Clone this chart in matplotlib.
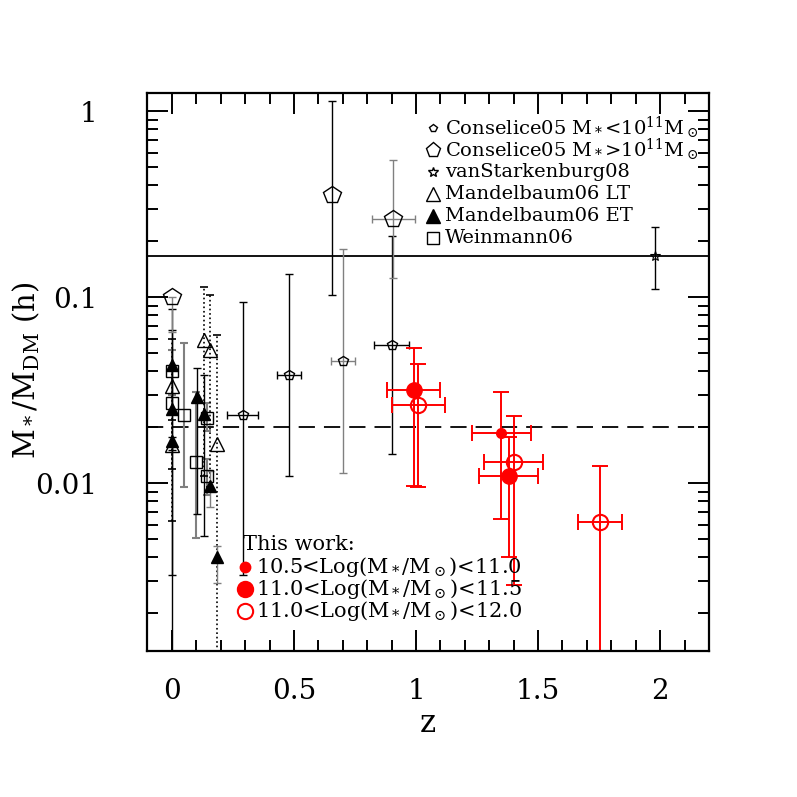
import matplotlib
matplotlib.use("Agg")
import matplotlib.pyplot as plt
from matplotlib.ticker import MultipleLocator, LogLocator, NullFormatter, FixedFormatter, FixedLocator

plt.rcParams["font.family"] = "DejaVu Serif"
plt.rcParams["mathtext.fontset"] = "dejavuserif"

# ---- This work (red) ----
red_small_z = [1.35]
red_small_y = [0.0187]
red_small_lo = [0.00646]
red_small_hi = [0.0308]
red_small_zerr = [0.12]

red_mid_z = [0.99, 1.38]
red_mid_y = [0.0318, 0.0109]
red_mid_lo = [0.0097, 0.0040]
red_mid_hi = [0.0537, 0.0178]
red_mid_zerr = [0.11, 0.12]

red_big_z = [1.01, 1.40, 1.755]
red_big_y = [0.0265, 0.0130, 0.0062]
red_big_lo = [0.0095, 0.00284, 0.0008]
red_big_hi = [0.0438, 0.0231, 0.0124]
red_big_zerr = [0.11, 0.12, 0.09]

# ---- Conselice05 ----
cons_small_z = [0.29, 0.48, 0.70, 0.90]
cons_small_y = [0.0234, 0.0383, 0.0452, 0.0555]
cons_small_lo = [0.0032, 0.0110, 0.0113, 0.0144]
cons_small_hi = [0.0947, 0.134, 0.1815, 0.214]
cons_small_zerr = [0.063, 0.048, 0.049, 0.073]
cons_small_col = ["k", "k", "0.5", "k"]

cons_big_z = [0.0, 0.655, 0.907]
cons_big_y = [0.100, 0.356, 0.265]
cons_big_lo = [0.065, 0.103, 0.127]
cons_big_hi = [0.100, 1.14, 0.549]
cons_big_zerr = [0.0, 0.0, 0.087]
cons_big_col = ["0.5", "k", "0.5"]

# ---- vanStarkenburg08 ----
vs_z = [1.98]
vs_y = [0.166]
vs_lo = [0.111]
vs_hi = [0.238]

# ---- Mandelbaum06 LT (open triangles) ----
mlt_z = [0.0, 0.0, 0.13, 0.155, 0.185]
mlt_y = [0.0335, 0.0160, 0.059, 0.052, 0.0162]
mlt_lo = [0.0063, 0.012, 0.011, 0.0095, 0.0008]
mlt_hi = [0.060, 0.022, 0.114, 0.103, 0.063]

# ---- Mandelbaum06 ET (filled triangles) ----
met_z = [0.0, 0.0, 0.0, 0.105, 0.13, 0.155, 0.185]
met_y = [0.0434, 0.0252, 0.0168, 0.029, 0.0237, 0.0097, 0.0040]
met_lo = [0.0032, 0.0007, 0.0151, 0.0068, 0.0052, 0.0075, 0.0029]
met_hi = [0.067, 0.087, 0.0178, 0.0416, 0.0383, 0.0117, 0.0046]
met_col = ["k", "k", "k", "k", "k", "0.5", "0.5"]

# ---- Weinmann06 (open squares) ----
wei_z = [0.0, 0.0, 0.05, 0.10, 0.145, 0.145]
wei_y = [0.040, 0.027, 0.0234, 0.0130, 0.0110, 0.0224]
wei_lo = [0.030, 0.024, 0.0095, 0.0051, 0.0087, 0.019]
wei_hi = [0.052, 0.030, 0.057, 0.031, 0.0135, 0.027]

f_baryon = 0.167
f_dashed = 0.020


def eb(ax, z, y, lo, hi, zerr=None, color="k", ls="-", cap=3, lw=1.0, **mk):
    for i in range(len(z)):
        c = color[i] if isinstance(color, list) else color
        xe = None
        if zerr is not None and zerr[i] > 0:
            xe = zerr[i]
        _, caps, bars = ax.errorbar(z[i], y[i], yerr=[[y[i] - lo[i]], [hi[i] - y[i]]], xerr=xe,
                                    fmt="none", ecolor=c, elinewidth=lw, capsize=cap,
                                    capthick=lw, zorder=2)
        for b in bars:
            b.set_linestyle(ls)
    ax.plot(z, y, ls="none", zorder=3, **mk)


fig = plt.figure(figsize=(7.97, 7.97), dpi=100)
ax = fig.add_axes([0.185, 0.1836, 0.7045, 0.7000])

ax.axhline(f_baryon, color="k", lw=1.3, zorder=1)
ax.axhline(f_dashed, color="k", lw=1.3, ls=(0, (9, 5)), zorder=1)

# literature
eb(ax, wei_z, wei_y, wei_lo, wei_hi, color="0.5", lw=1.5,
   marker="s", ms=9, mfc="none", mec="k", mew=1.0)
eb(ax, mlt_z, mlt_y, mlt_lo, mlt_hi, color="k", ls=":", lw=1.2,
   marker="^", ms=10, mfc="none", mec="k", mew=1.0)
eb(ax, met_z, met_y, met_lo, met_hi, color=met_col, lw=1.0,
   marker="^", ms=9, mfc="k", mec="k", mew=1.0)
eb(ax, cons_small_z, cons_small_y, cons_small_lo, cons_small_hi, cons_small_zerr,
   color=cons_small_col, marker="p", ms=7, mfc="none", mec="k", mew=1.0)
eb(ax, cons_big_z, cons_big_y, cons_big_lo, cons_big_hi, cons_big_zerr,
   color=cons_big_col, marker="p", ms=13, mfc="none", mec="k", mew=1.0)
eb(ax, vs_z, vs_y, vs_lo, vs_hi, color="k",
   marker="*", ms=7, mfc="none", mec="k", mew=0.8)

# this work
red = "#ff0000"
eb(ax, red_small_z, red_small_y, red_small_lo, red_small_hi, red_small_zerr,
   color=red, cap=6, lw=1.4, marker="o", ms=7, mfc=red, mec=red)
eb(ax, red_mid_z, red_mid_y, red_mid_lo, red_mid_hi, red_mid_zerr,
   color=red, cap=6, lw=1.4, marker="o", ms=11, mfc=red, mec=red)
eb(ax, red_big_z, red_big_y, red_big_lo, red_big_hi, red_big_zerr,
   color=red, cap=6, lw=1.4, marker="o", ms=11, mfc="none", mec=red, mew=1.5)

ax.set_yscale("log")
ax.set_xlim(-0.1, 2.2)
ax.set_ylim(10 ** -2.9, 10 ** 0.1)

ax.set_xticks([0, 0.5, 1, 1.5, 2])
ax.set_xticklabels(["0", "0.5", "1", "1.5", "2"])
ax.xaxis.set_minor_locator(MultipleLocator(0.1))
ax.yaxis.set_major_locator(FixedLocator([0.01, 0.1, 1]))
ax.yaxis.set_major_formatter(FixedFormatter(["0.01", "0.1", "1"]))
ax.yaxis.set_minor_locator(LogLocator(base=10, subs=range(2, 10)))
ax.yaxis.set_minor_formatter(NullFormatter())

ax.tick_params(which="both", direction="in", top=True, right=True, width=1.4)
ax.tick_params(which="major", length=15, labelsize=20)
ax.tick_params(which="minor", length=8)
ax.tick_params(axis="x", which="major", pad=20)
ax.tick_params(axis="y", which="major", pad=36)
for s in ax.spines.values():
    s.set_linewidth(1.6)

ax.set_xlabel("z", fontsize=22, labelpad=2)
ax.set_ylabel(r"$\mathrm{M_*/M_{DM}}$ (h)", fontsize=21)
ax.yaxis.set_label_coords(-0.188, 0.503)

# legend, upper right
def ax_pos(px, py):
    return (px - 147.5) / 561.5, (650.7 - py) / 558.0

leg_rows = [
    ("p", 6, "none", r"Conselice05 M$_*$<10$^{11}$M$_\odot$"),
    ("p", 11, "none", r"Conselice05 M$_*$>10$^{11}$M$_\odot$"),
    ("*", 7, "none", "vanStarkenburg08"),
    ("^", 10, "none", "Mandelbaum06 LT"),
    ("^", 10, "k", "Mandelbaum06 ET"),
    ("s", 8, "none", "Weinmann06"),
]
for i, (m, s, fc, lab) in enumerate(leg_rows):
    py = 128 + 22 * i
    mx, my = ax_pos(433, py)
    tx, _ = ax_pos(445, py)
    ax.plot([mx], [my], marker=m, ms=s, mfc=fc, mec="k", mew=1.0, ls="none",
            transform=ax.transAxes, clip_on=False)
    ax.text(tx, my, lab, transform=ax.transAxes, fontsize=14, va="center", ha="left")

tx, ty = ax_pos(243, 545)
ax.text(tx, ty, "This work:", transform=ax.transAxes, fontsize=15, va="center", ha="left")
this_rows = [
    (7, red, r"10.5<Log(M$_*$/M$_\odot$)<11.0"),
    (11, red, r"11.0<Log(M$_*$/M$_\odot$)<11.5"),
    (11, "none", r"11.0<Log(M$_*$/M$_\odot$)<12.0"),
]
for i, (s, fc, lab) in enumerate(this_rows):
    py = 567 + 22 * i
    mx, my = ax_pos(245, py)
    tx, _ = ax_pos(256, py)
    ax.plot([mx], [my], marker="o", ms=s, mfc=fc, mec=red, mew=1.5, ls="none",
            transform=ax.transAxes)
    ax.text(tx, my, lab, transform=ax.transAxes, fontsize=15, va="center", ha="left")

fig.savefig("out.png", dpi=100)
